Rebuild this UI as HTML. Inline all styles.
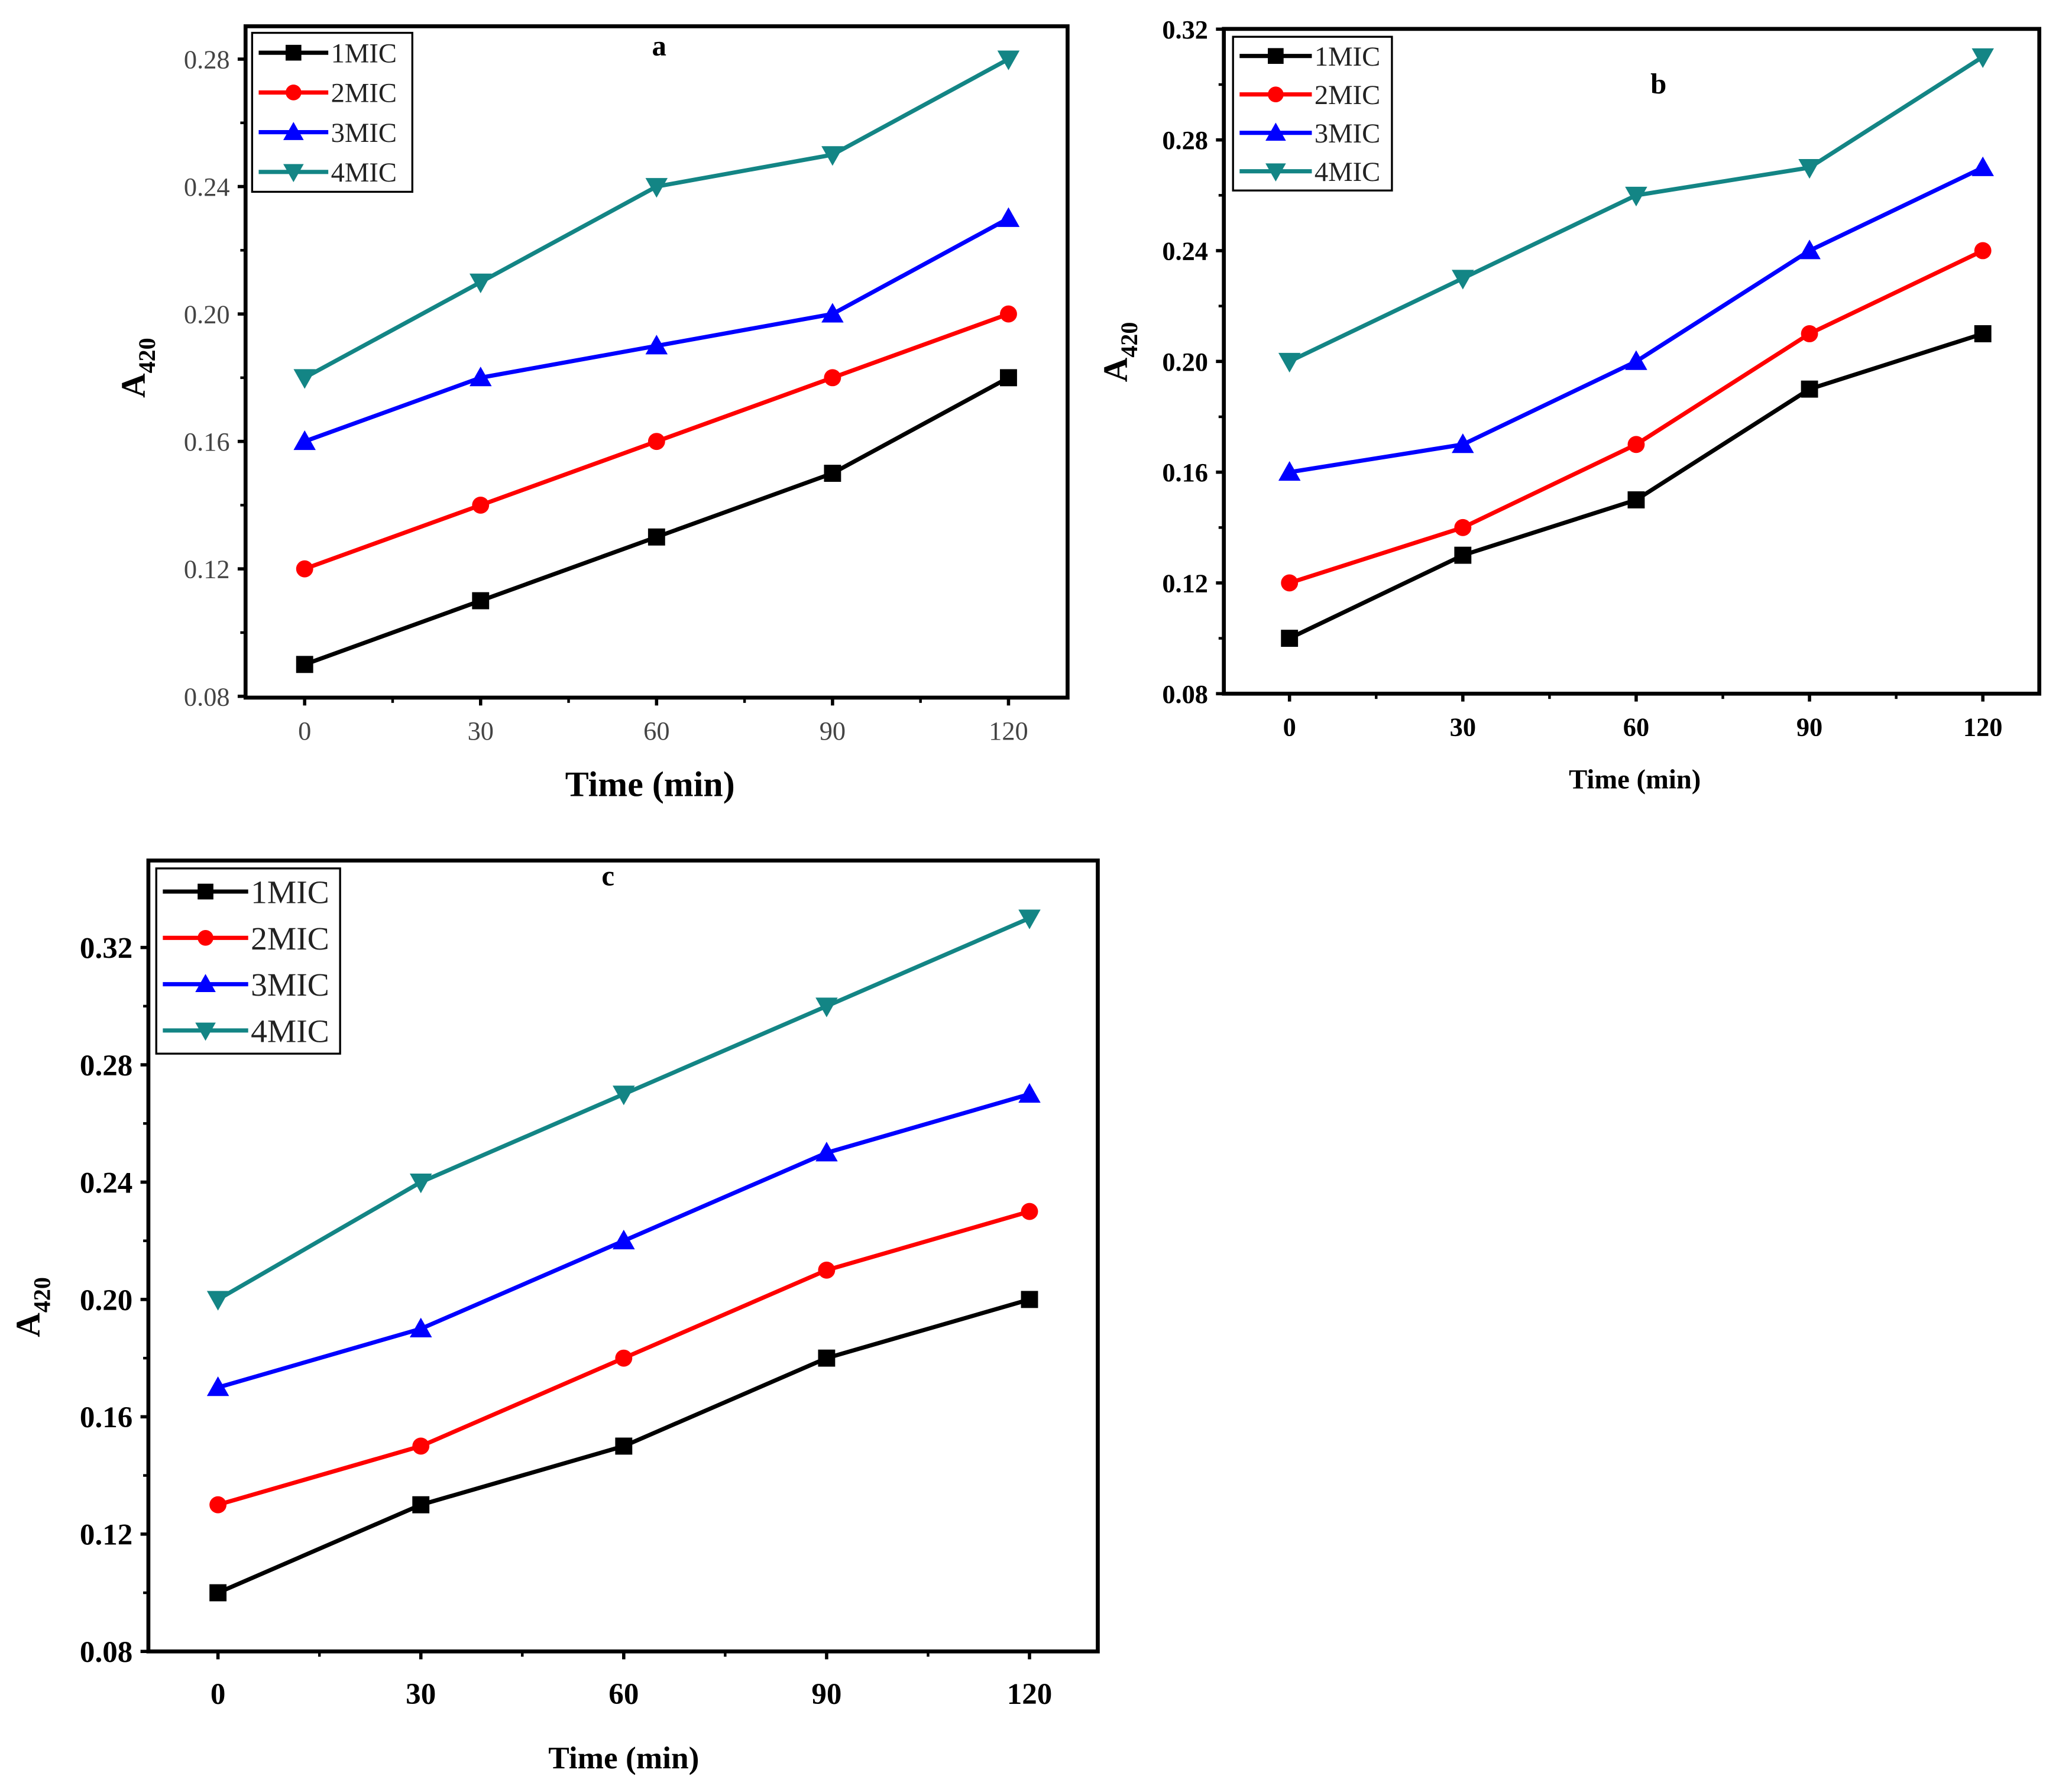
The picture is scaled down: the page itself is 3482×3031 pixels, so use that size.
<!DOCTYPE html>
<html><head><meta charset="utf-8"><style>
html,body{margin:0;padding:0;background:#fff;}
svg{display:block;}
svg text{font-family:"Liberation Serif",serif;}
</style></head><body>
<svg id="root" xmlns="http://www.w3.org/2000/svg" width="3482" height="3031" viewBox="0 0 1568 1364" preserveAspectRatio="none" font-family="Liberation Serif, serif"></svg>
<script>
const categories = [0, 30, 60, 90, 120];
const seriesNames = ["1MIC", "2MIC", "3MIC", "4MIC"];
const aMIC1 = [0.09, 0.11, 0.13, 0.15, 0.18];
const aMIC2 = [0.12, 0.14, 0.16, 0.18, 0.20];
const aMIC3 = [0.16, 0.18, 0.19, 0.20, 0.23];
const aMIC4 = [0.18, 0.21, 0.24, 0.25, 0.28];
const bMIC1 = [0.10, 0.13, 0.15, 0.19, 0.21];
const bMIC2 = [0.12, 0.14, 0.17, 0.21, 0.24];
const bMIC3 = [0.16, 0.17, 0.20, 0.24, 0.27];
const bMIC4 = [0.20, 0.23, 0.26, 0.27, 0.31];
const cMIC1 = [0.10, 0.13, 0.15, 0.18, 0.20];
const cMIC2 = [0.13, 0.15, 0.18, 0.21, 0.23];
const cMIC3 = [0.17, 0.19, 0.22, 0.25, 0.27];
const cMIC4 = [0.20, 0.24, 0.27, 0.30, 0.33];
const yTicksA = [0.08, 0.12, 0.16, 0.20, 0.24, 0.28];
const yTicksBC = [0.08, 0.12, 0.16, 0.20, 0.24, 0.28, 0.32];

const NS = "http://www.w3.org/2000/svg";
const root = document.getElementById("root");
const colors = ["#000000", "#ff0000", "#0000ff", "#138585"];
const markers = ["square", "circle", "up", "down"];

function mk(tag, attrs, parent) {
  const e = document.createElementNS(NS, tag);
  for (const k in attrs) e.setAttribute(k, attrs[k]);
  parent.appendChild(e);
  return e;
}
function marker(g, type, x, y, c, s) {
  let m;
  if (type === "square") m = mk("rect", {x: x - s, y: y - s, width: 2 * s, height: 2 * s, fill: c}, g);
  else if (type === "circle") m = mk("circle", {cx: x, cy: y, r: s, fill: c}, g);
  else if (type === "up") m = mk("polygon", {points: `${x},${y - s * 1.3} ${x - s * 1.3},${y + s} ${x + s * 1.3},${y + s}`, fill: c}, g);
  else m = mk("polygon", {points: `${x},${y + s * 1.3} ${x - s * 1.3},${y - s} ${x + s * 1.3},${y - s}`, fill: c}, g);
  return m;
}

function drawChart(cfg) {
  const g = mk("g", {}, root);
  
  
  const xs = v => cfg.x0 + (v - 0) / 120 * (cfg.x1 - cfg.x0);
  const ys = v => cfg.y0 - (v - 0.08) / 0.04 * cfg.py;
  const fr = mk("rect", {x: cfg.L, y: cfg.T, width: cfg.R - cfg.L, height: cfg.B - cfg.T, fill: "none", stroke: "#000", "stroke-width": 3}, g);
  
  
  cfg.yTicks.forEach((t, i) => {
    const y = ys(t);
    mk("line", {x1: cfg.L - 6, x2: cfg.L, y1: y, y2: y, stroke: "#000", "stroke-width": 2.5}, g);
    if (i < cfg.yTicks.length - 1) { const ym = ys(t + 0.02); if (ym > cfg.T) mk("line", {x1: cfg.L - 4, x2: cfg.L, y1: ym, y2: ym, stroke: "#000", "stroke-width": 2}, g); }
    const tx = mk("text", {x: cfg.L - 12, y: y + cfg.fs * 0.35, "text-anchor": "end", "font-size": cfg.fs, fill: cfg.tickColor, "font-weight": cfg.tickWeight}, g);
    tx.textContent = t.toFixed(2);
    
    
  });
  categories.forEach((c, i) => {
    const x = xs(c);
    mk("line", {x1: x, x2: x, y1: cfg.B, y2: cfg.B + 6, stroke: "#000", "stroke-width": 2.5}, g);
    if (i < categories.length - 1) mk("line", {x1: xs(c + 15), x2: xs(c + 15), y1: cfg.B, y2: cfg.B + 4, stroke: "#000", "stroke-width": 2}, g);
    const tx = mk("text", {x: x, y: cfg.B + cfg.xlOff, "text-anchor": "middle", "font-size": cfg.fs, fill: cfg.tickColor, "font-weight": cfg.tickWeight}, g);
    tx.textContent = c;
    
    
  });
  cfg.series.forEach((vals, si) => {
    const sg = mk("g", {}, g);
    
    
    const pts = vals.map((v, i) => xs(categories[i]) + "," + ys(v)).join(" ");
    mk("polyline", {points: pts, fill: "none", stroke: colors[si], "stroke-width": 3.2}, sg);
    vals.forEach((v, i) => {
      const m = marker(sg, markers[si], xs(categories[i]), ys(v), colors[si], 6.5);
      
      
    });
  });
  const lg = mk("g", {}, g);
  
  
  mk("rect", {x: cfg.lx, y: cfg.ly, width: cfg.lw, height: cfg.lh, fill: "#fff", stroke: "#000", "stroke-width": 1.5}, lg);
  const step = cfg.lh / 4;
  seriesNames.forEach((n, i) => {
    const y = cfg.ly + step * (i + 0.5);
    const eg = mk("g", {}, lg);
    
    
    mk("line", {x1: cfg.lx + 5, x2: cfg.lx + cfg.lline, y1: y, y2: y, stroke: colors[i], "stroke-width": 3.2}, eg);
    marker(eg, markers[i], cfg.lx + 5 + (cfg.lline - 5) / 2, y, colors[i], 6);
    const t = mk("text", {x: cfg.lx + cfg.lline + 2, y: y + cfg.lfs * 0.35, "font-size": cfg.lfs, fill: "#222", "font-family": "Liberation Serif, serif"}, eg);
    t.textContent = n;
  });
  const tt = mk("text", {x: cfg.tx, y: cfg.ty, "text-anchor": "middle", "font-size": 22, "font-weight": "bold"}, g);
  tt.textContent = cfg.letter;
  
  
  const xt = mk("text", {x: cfg.xtX, y: cfg.xtY, "text-anchor": "middle", "font-size": cfg.xtfs, "font-weight": "bold"}, g);
  xt.textContent = "Time (min)";
  
  
  const yt = mk("text", {transform: `translate(${cfg.ytX},${cfg.ytY}) rotate(-90)`, "text-anchor": "middle", "font-size": 26, "font-weight": "bold"}, g);
  yt.innerHTML = 'A<tspan font-size="18" dy="8">420</tspan>';
  
  
}

drawChart({name: "chart-a", letter: "a", L: 187, R: 813, T: 20, B: 531, x0: 232, x1: 768, y0: 530, py: 97,
  yTicks: yTicksA, series: [aMIC1, aMIC2, aMIC3, aMIC4], fs: 20, tickColor: "#444", tickWeight: "normal", xlOff: 32,
  lx: 192, ly: 25, lw: 122, lh: 121, lline: 58, lfs: 21, tx: 502, ty: 42, xtX: 495, xtY: 606, xtfs: 27, ytX: 110, ytY: 280});
drawChart({name: "chart-b", letter: "b", L: 932, R: 1553, T: 22, B: 528, x0: 982, x1: 1510, y0: 528, py: 84.3,
  yTicks: yTicksBC, series: [bMIC1, bMIC2, bMIC3, bMIC4], fs: 20, tickColor: "#000", tickWeight: "bold", xlOff: 32,
  lx: 939, ly: 28, lw: 121, lh: 117, lline: 60, lfs: 21, tx: 1263, ty: 71, xtX: 1245, xtY: 600, xtfs: 21, ytX: 858, ytY: 268});
drawChart({name: "chart-c", letter: "c", L: 113, R: 836, T: 655, B: 1257, x0: 166, x1: 784, y0: 1257, py: 89.3,
  yTicks: yTicksBC, series: [cMIC1, cMIC2, cMIC3, cMIC4], fs: 23, tickColor: "#000", tickWeight: "bold", xlOff: 40,
  lx: 119, ly: 661, lw: 140, lh: 141, lline: 70, lfs: 25, tx: 463, ty: 674, xtX: 475, xtY: 1346, xtfs: 24, ytX: 30, ytY: 995});
</script>
</body></html>
